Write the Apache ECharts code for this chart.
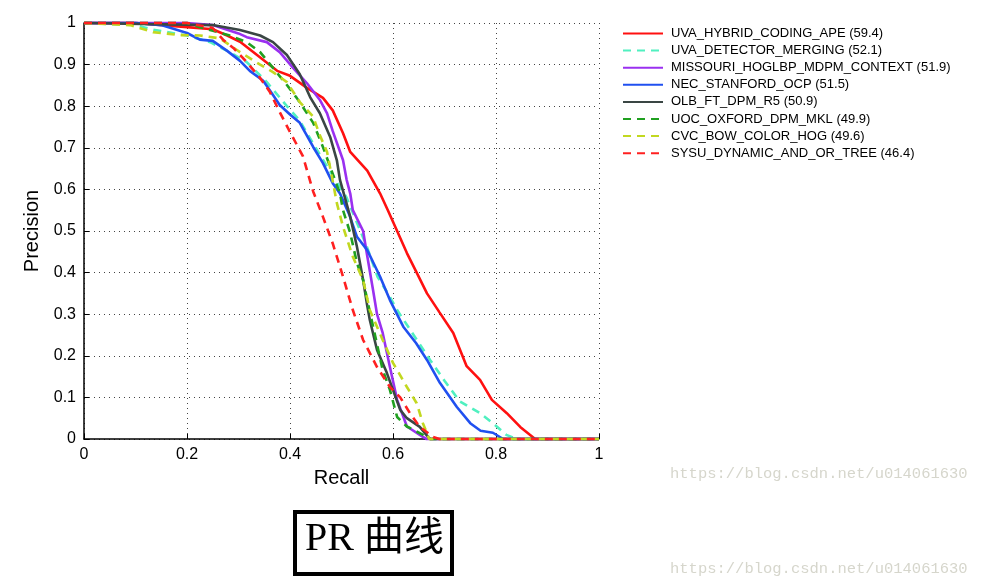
<!DOCTYPE html>
<html>
<head>
<meta charset="utf-8">
<script src="https://cdn.jsdelivr.net/npm/echarts@6/dist/echarts.min.js"></script>
<style>
html,body{margin:0;padding:0;background:#fff;}
#chart{width:999px;height:582px;}
</style>
</head>
<body>
<div id="chart"></div>
<script>
// Series names (legend)
const seriesNames = [
  'UVA_HYBRID_CODING_APE (59.4)',
  'UVA_DETECTOR_MERGING (52.1)',
  'MISSOURI_HOGLBP_MDPM_CONTEXT (51.9)',
  'NEC_STANFORD_OCP (51.5)',
  'OLB_FT_DPM_R5 (50.9)',
  'UOC_OXFORD_DPM_MKL (49.9)',
  'CVC_BOW_COLOR_HOG (49.6)',
  'SYSU_DYNAMIC_AND_OR_TREE (46.4)'
];

// [recall, precision] points
const uvaHybrid = [[0,1],[0.1,1],[0.2,0.99],[0.25,0.985],[0.278,0.97],[0.303,0.955],[0.336,0.923],[0.375,0.885],[0.4,0.873],[0.433,0.844],[0.464,0.82],[0.483,0.79],[0.503,0.735],[0.517,0.69],[0.55,0.645],[0.575,0.59],[0.59,0.55],[0.608,0.5],[0.627,0.447],[0.646,0.4],[0.666,0.35],[0.69,0.305],[0.717,0.255],[0.743,0.175],[0.769,0.142],[0.792,0.094],[0.821,0.062],[0.847,0.029],[0.876,0],[1,0]];
const uvaDetector = [[0,1],[0.1,0.995],[0.13,0.985],[0.2,0.97],[0.245,0.954],[0.283,0.93],[0.316,0.906],[0.355,0.858],[0.394,0.8],[0.419,0.765],[0.445,0.71],[0.472,0.655],[0.49,0.62],[0.51,0.58],[0.53,0.52],[0.55,0.46],[0.57,0.39],[0.59,0.35],[0.608,0.31],[0.64,0.25],[0.672,0.19],[0.7,0.14],[0.73,0.09],[0.769,0.062],[0.794,0.038],[0.82,0.01],[0.84,0],[1,0]];
const missouri = [[0,1],[0.2,1],[0.25,0.995],[0.3,0.975],[0.316,0.966],[0.355,0.954],[0.38,0.93],[0.406,0.892],[0.433,0.855],[0.458,0.815],[0.472,0.783],[0.483,0.74],[0.503,0.67],[0.51,0.623],[0.517,0.59],[0.522,0.55],[0.542,0.5],[0.55,0.44],[0.561,0.36],[0.569,0.3],[0.58,0.255],[0.594,0.173],[0.608,0.094],[0.627,0.03],[0.658,0.005],[0.665,0],[1,0]];
const necStanford = [[0,1],[0.1,1],[0.15,0.995],[0.2,0.976],[0.225,0.96],[0.25,0.957],[0.278,0.933],[0.303,0.909],[0.322,0.885],[0.348,0.861],[0.367,0.827],[0.38,0.803],[0.4,0.78],[0.419,0.76],[0.445,0.702],[0.464,0.663],[0.483,0.615],[0.497,0.59],[0.515,0.54],[0.53,0.486],[0.55,0.454],[0.575,0.39],[0.594,0.334],[0.62,0.27],[0.645,0.23],[0.666,0.19],[0.691,0.135],[0.724,0.077],[0.75,0.038],[0.77,0.02],[0.794,0.015],[0.814,0],[1,0]];
const olbFt = [[0,1],[0.25,0.995],[0.303,0.983],[0.342,0.97],[0.367,0.954],[0.394,0.923],[0.419,0.877],[0.439,0.822],[0.458,0.783],[0.478,0.726],[0.491,0.67],[0.497,0.623],[0.517,0.534],[0.53,0.462],[0.542,0.382],[0.55,0.32],[0.555,0.286],[0.569,0.214],[0.588,0.159],[0.614,0.07],[0.627,0.05],[0.652,0.029],[0.668,0.005],[0.672,0],[1,0]];
const uocOxford = [[0,1],[0.2,1],[0.225,0.99],[0.283,0.97],[0.316,0.954],[0.342,0.93],[0.367,0.892],[0.394,0.851],[0.413,0.82],[0.425,0.798],[0.445,0.76],[0.464,0.702],[0.478,0.654],[0.497,0.59],[0.503,0.55],[0.517,0.495],[0.53,0.423],[0.542,0.382],[0.55,0.334],[0.565,0.25],[0.58,0.166],[0.594,0.118],[0.608,0.053],[0.627,0.03],[0.666,0.005],[0.672,0],[1,0]];
const cvcBow = [[0,1],[0.09,0.995],[0.134,0.978],[0.186,0.971],[0.225,0.97],[0.264,0.963],[0.303,0.93],[0.342,0.9],[0.367,0.882],[0.394,0.858],[0.419,0.81],[0.445,0.775],[0.458,0.73],[0.472,0.69],[0.483,0.62],[0.491,0.567],[0.503,0.51],[0.522,0.438],[0.542,0.382],[0.555,0.31],[0.58,0.238],[0.6,0.183],[0.627,0.125],[0.646,0.086],[0.658,0.038],[0.666,0.014],[0.67,0],[1,0]];
const sysuDynamic = [[0,1],[0.2,1],[0.25,0.988],[0.27,0.96],[0.29,0.94],[0.316,0.906],[0.342,0.868],[0.361,0.834],[0.38,0.786],[0.4,0.738],[0.425,0.68],[0.445,0.595],[0.464,0.534],[0.483,0.47],[0.503,0.39],[0.522,0.31],[0.542,0.238],[0.569,0.173],[0.594,0.125],[0.614,0.1],[0.633,0.062],[0.652,0.029],[0.678,0.005],[0.69,0],[1,0]];

const seriesData = [uvaHybrid, uvaDetector, missouri, necStanford, olbFt, uocOxford, cvcBow, sysuDynamic];
const seriesColors = ['#ff1010', '#50f0c0', '#9a30f0', '#2050f0', '#3a4644', '#20a020', '#c2d820', '#ff2020'];
const seriesDash = ['solid', 'dashed', 'solid', 'solid', 'solid', 'dashed', 'dashed', 'dashed'];

const xTicks = { min: 0, max: 1, interval: 0.2 };
const yTicks = { min: 0, max: 1, interval: 0.1 };

const chart = echarts.init(document.getElementById('chart'), null, { renderer: 'canvas' });

const gridStyle = { show: true, lineStyle: { color: '#444', width: 1, type: [1, 4] } };
const fontFam = 'Liberation Sans, Arial, Helvetica, sans-serif';
const wmFont = '15.5px "Liberation Mono", "DejaVu Sans Mono", monospace';

const option = {
  backgroundColor: '#ffffff',
  animation: false,
  grid: { left: 84, top: 23, width: 515, height: 416, containLabel: false },
  xAxis: {
    type: 'value', min: xTicks.min, max: xTicks.max, interval: xTicks.interval,
    name: 'Recall', nameLocation: 'middle', nameGap: 29,
    nameTextStyle: { fontFamily: fontFam, fontSize: 20, color: '#000' },
    axisLine: { show: true, onZero: false, lineStyle: { color: '#000', width: 1.5 } },
    axisTick: { show: true, inside: true, length: 5, lineStyle: { color: '#000' } },
    axisLabel: { fontFamily: fontFam, fontSize: 16, color: '#000', margin: 8 },
    splitLine: gridStyle
  },
  yAxis: {
    type: 'value', min: yTicks.min, max: yTicks.max, interval: yTicks.interval,
    name: 'Precision', nameLocation: 'middle', nameGap: 42, nameRotate: 90,
    nameTextStyle: { fontFamily: fontFam, fontSize: 20, color: '#000' },
    axisLine: { show: true, onZero: false, lineStyle: { color: '#000', width: 1.5 } },
    axisTick: { show: true, inside: true, length: 5, lineStyle: { color: '#000' } },
    axisLabel: { fontFamily: fontFam, fontSize: 16, color: '#000', margin: 8 },
    splitLine: gridStyle
  },
  legend: {
    orient: 'vertical', left: 617, top: 22,
    itemWidth: 40, itemHeight: 14, itemGap: 4.1,
    itemStyle: { opacity: 0 },
    textStyle: { fontFamily: fontFam, fontSize: 13, color: '#000', padding: [0, 0, 0, 3] },
    data: seriesNames
  },
  series: seriesNames.map((name, i) => ({
    name: name,
    type: 'line',
    data: seriesData[i],
    symbol: 'none',
    clip: false,
    color: seriesColors[i],
    lineStyle: { color: seriesColors[i], width: 2.6, type: seriesDash[i] === 'dashed' ? [8, 6] : 'solid' }
  })),
  graphic: [
    { type: 'rect', left: 293, top: 510, shape: { width: 157, height: 62 },
      style: { fill: '#fff', stroke: '#000', lineWidth: 4 } },
    { type: 'text', left: 305, top: 519,
      style: { text: 'PR 曲线', fill: '#000', font: '40px "Liberation Serif", "Noto Sans CJK SC", serif' } },
    { type: 'text', left: 670, top: 466,
      style: { text: 'https://blog.csdn.net/u014061630', fill: '#d6d6cc', font: wmFont } },
    { type: 'text', left: 670, top: 561,
      style: { text: 'https://blog.csdn.net/u014061630', fill: '#d6d6cc', font: wmFont } }
  ]
};
chart.setOption(option);
</script>
</body>
</html>
